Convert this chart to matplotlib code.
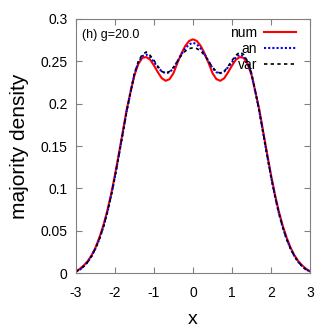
import numpy as np
import matplotlib
matplotlib.use("Agg")
import matplotlib.pyplot as plt

# x from 0 to 3, step 0.1 (profiles are symmetric in x)
x_half = [round(0.1 * i, 1) for i in range(31)]

num_half = [0.276, 0.274, 0.268, 0.259, 0.248, 0.236, 0.229, 0.227, 0.230, 0.237,
            0.245, 0.252, 0.255, 0.254, 0.247, 0.234, 0.214, 0.193, 0.167, 0.141,
            0.116, 0.093, 0.073, 0.056, 0.042, 0.030, 0.021, 0.014, 0.009, 0.005,
            0.002]
an_half = [0.272, 0.270, 0.265, 0.258, 0.250, 0.242, 0.237, 0.236, 0.238, 0.243,
           0.249, 0.255, 0.258, 0.256, 0.249, 0.235, 0.214, 0.191, 0.165, 0.139,
           0.114, 0.091, 0.071, 0.054, 0.040, 0.029, 0.020, 0.013, 0.008, 0.004,
           0.002]
var_half = [0.266, 0.265, 0.262, 0.257, 0.250, 0.243, 0.238, 0.236, 0.238, 0.244,
            0.251, 0.257, 0.261, 0.258, 0.250, 0.236, 0.214, 0.191, 0.165, 0.139,
            0.114, 0.091, 0.071, 0.054, 0.040, 0.029, 0.020, 0.013, 0.008, 0.004,
            0.002]


def mirror(vals):
    return vals[:0:-1] + vals


x = [-v for v in x_half[:0:-1]] + x_half
num = mirror(num_half)
an = mirror(an_half)
var = mirror(var_half)

xticks = [-3, -2, -1, 0, 1, 2, 3]
yticks = [0, 0.05, 0.1, 0.15, 0.2, 0.25, 0.3]
ytick_labels = ["0", "0.05", "0.1", "0.15", "0.2", "0.25", "0.3"]

plt.rcParams["font.family"] = ["Liberation Sans", "DejaVu Sans"]

fig = plt.figure(figsize=(3.27, 3.27), dpi=100)
ax = fig.add_axes([0.2324, 0.165, 0.7156, 0.777])

ax.plot(x, num, color="#ff0000", lw=1.5, label="num")
ax.plot(x, an, color="#0000ff", lw=1.5, linestyle=(0, (1, 1)), label="an")
ax.plot(x, var, color="black", lw=1.2, linestyle=(0, (2, 2)), label="var")

ax.set_xlim(-3, 3)
ax.set_ylim(0, 0.3)
ax.set_xticks(xticks)
ax.set_xticklabels([str(t) for t in xticks])
ax.set_yticks(yticks)
ax.set_yticklabels(ytick_labels)
ax.tick_params(direction="in", top=True, right=True, labelsize=10,
               length=4, color="#808080", pad=6)
ax.tick_params(axis="x", pad=9)
for s in ax.spines.values():
    s.set_color("#808080")

ax.set_xlabel("x", fontsize=14, labelpad=8)
ax.set_ylabel("majority density", fontsize=15, labelpad=8)
ax.text(0.026, 0.96, "(h) g=20.0", transform=ax.transAxes, fontsize=9,
        va="top", ha="left")

ax.legend(loc="upper right", bbox_to_anchor=(0.97, 1.0), frameon=False,
          markerfirst=False, fontsize=10, handlelength=2.3,
          borderaxespad=0.1, labelspacing=0.15, handletextpad=0.5)

fig.savefig("out.png", dpi=100)
